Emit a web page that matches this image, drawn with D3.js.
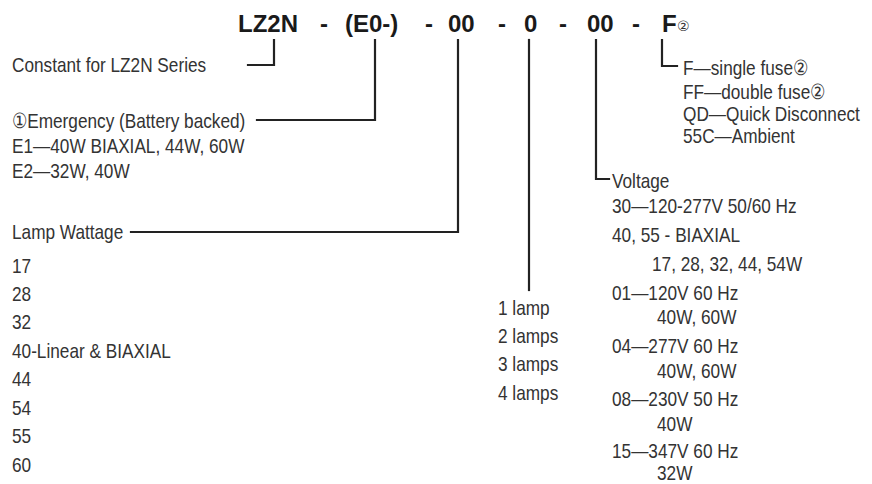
<!DOCTYPE html>
<html>
<head>
<meta charset="utf-8">
<script src="https://cdn.jsdelivr.net/npm/d3@7"></script>
<style>
  html, body { margin: 0; padding: 0; background: #fff; }
  svg { display: block; }
</style>
</head>
<body>
<svg id="chart" width="872" height="484"></svg>
<script>
// ---- data ----
const headerTokens = ["LZ2N", "-", "(E0-)", "-", "00", "-", "0", "-", "00", "-", "F"];
const headerSuffix = "②";
const constantLabel = ["Constant for LZ2N Series"];
const emergencyLabels = ["①Emergency (Battery backed)", "E1—40W BIAXIAL, 44W, 60W", "E2—32W, 40W"];
const wattageTitle = "Lamp Wattage";
const wattageCodes = ["17", "28", "32", "40-Linear & BIAXIAL", "44", "54", "55", "60"];
const lampCounts = ["1 lamp", "2 lamps", "3 lamps", "4 lamps"];
const optionCodes = ["F—single fuse②", "FF—double fuse②", "QD—Quick Disconnect", "55C—Ambient"];
const voltageTitle = "Voltage";
const voltageLines = [
  {text: "30—120-277V 50/60 Hz", indent: 0},
  {text: "40, 55 - BIAXIAL", indent: 0},
  {text: "17, 28, 32, 44, 54W", indent: 1},
  {text: "01—120V 60 Hz", indent: 0},
  {text: "40W, 60W", indent: 2},
  {text: "04—277V 60 Hz", indent: 0},
  {text: "40W, 60W", indent: 2},
  {text: "08—230V 50 Hz", indent: 0},
  {text: "40W", indent: 2},
  {text: "15—347V 60 Hz", indent: 0},
  {text: "32W", indent: 2}
];
// vertical centres of voltage lines
const voltageRows = [205, 234, 263, 292, 316, 345, 370, 398, 423, 450, 472];

// ---- drawing ----
const svg = d3.select("#chart");
const FONT = "'Liberation Sans', Arial, sans-serif";
const TXT = "#333";
const LINE = "#222";
const fs = 21;
const narrow = 0.82;

// header token positions along the code string
const headerX = d3.scaleOrdinal()
  .domain(d3.range(headerTokens.length))
  .range([238, 320, 345, 425, 448, 498, 524, 559, 587, 632, 662]);

const header = svg.append("g");
header.selectAll("text").data(headerTokens).join("text")
  .attr("x", (d, i) => headerX(i))
  .attr("y", 32)
  .attr("font-family", "'Liberation Sans', Arial, sans-serif")
  .attr("font-weight", "bold")
  .attr("font-size", 24)
  .attr("fill", "#1a1a1a")
  .text(d => d);
header.append("text")
  .attr("x", 677).attr("y", 31)
  .attr("font-family", "'DejaVu Sans', sans-serif")
  .attr("font-size", 14)
  .attr("fill", "#333")
  .text(headerSuffix);

function label(g, x, yc, text) {
  g.append("text")
    .attr("transform", `translate(${x},${yc}) scale(${narrow},1)`)
    .attr("dy", "0.36em")
    .attr("font-family", FONT)
    .attr("font-size", fs)
    .attr("fill", TXT)
    .text(text);
}

const body = svg.append("g");

// left column
label(body, 12, 64, constantLabel[0]);
const yEm = d3.scaleLinear().domain([0, 2]).range([120, 170]);
emergencyLabels.forEach((t, i) => label(body, 12, yEm(i), t));
label(body, 12, 231, wattageTitle);
const yWatt = d3.scaleLinear().domain([0, wattageCodes.length - 1]).range([265, 464]);
wattageCodes.forEach((t, i) => label(body, 12, yWatt(i), t));

// middle column
const yLamp = d3.scaleLinear().domain([0, lampCounts.length - 1]).range([307, 392]);
lampCounts.forEach((t, i) => label(body, 498, yLamp(i), t));

// options (F)
const yOpt = d3.scaleLinear().domain([0, 1, 2, 3]).range([67, 91, 113, 135]);
optionCodes.forEach((t, i) => label(body, 683, yOpt(i), t));

// voltage
label(body, 612, 180, voltageTitle);
const indentX = [612, 652, 657];
voltageLines.forEach((d, i) => label(body, indentX[d.indent], voltageRows[i], d.text));

// connector lines
const connectors = [
  [[274, 40], [274, 65], [248, 65]],          // LZ2N -> constant
  [[375, 40], [375, 120], [257, 120]],        // (E0-) -> emergency
  [[458, 40], [458, 232], [131, 232]],        // 00 -> lamp wattage
  [[529, 40], [529, 290]],                    // 0 -> lamps
  [[596, 40], [596, 179], [609, 179]],        // 00 -> voltage
  [[662, 40], [662, 66], [677, 66]]           // F -> options
];
const lineGen = d3.line();
svg.append("g").selectAll("path").data(connectors).join("path")
  .attr("d", d => lineGen(d))
  .attr("fill", "none")
  .attr("stroke", LINE)
  .attr("stroke-width", 2.2)
  .attr("stroke-linejoin", "miter")
  .attr("stroke-linecap", "square");
</script>
</body>
</html>
